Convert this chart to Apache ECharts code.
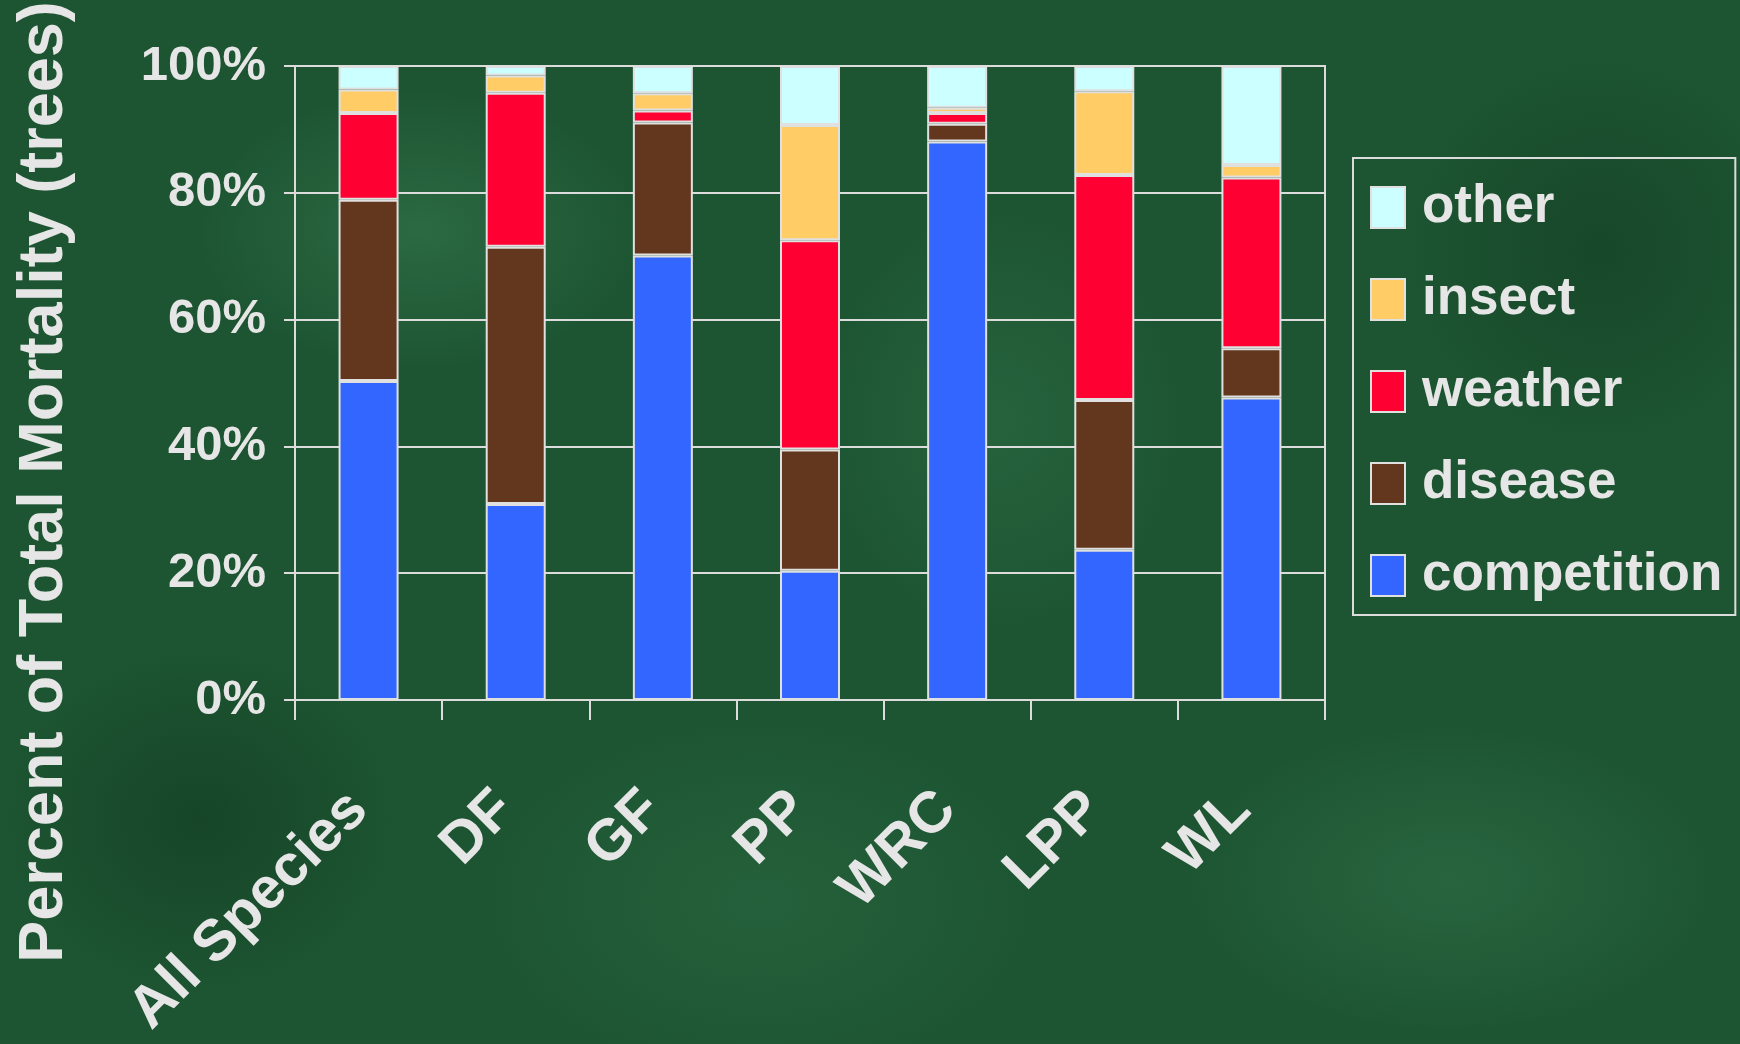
<!DOCTYPE html>
<html>
<head>
<meta charset="utf-8">
<script src="https://cdn.jsdelivr.net/npm/echarts@6/dist/echarts.min.js"></script>
<style>
  html, body { margin: 0; padding: 0; }
  body {
    width: 1740px; height: 1044px; overflow: hidden;
    background-color: #1d5532;
    background-image:
      radial-gradient(ellipse 320px 200px at 420px 230px, rgba(80,160,110,0.28), rgba(80,160,110,0) 70%),
      radial-gradient(ellipse 260px 300px at 1000px 420px, rgba(70,150,100,0.22), rgba(70,150,100,0) 70%),
      radial-gradient(ellipse 380px 220px at 1450px 880px, rgba(80,160,110,0.22), rgba(80,160,110,0) 70%),
      radial-gradient(ellipse 300px 260px at 200px 820px, rgba(10,40,20,0.35), rgba(10,40,20,0) 70%),
      radial-gradient(ellipse 400px 260px at 760px 900px, rgba(70,150,100,0.18), rgba(70,150,100,0) 70%),
      radial-gradient(ellipse 300px 300px at 1600px 250px, rgba(10,40,20,0.3), rgba(10,40,20,0) 70%);
  }
  #main { width: 1740px; height: 1044px; }
</style>
</head>
<body>
<div id="main"></div>
<script>
// categories and stacked shares (%), bottom to top
const species = ['All Species', 'DF', 'GF', 'PP', 'WRC', 'LPP', 'WL'];
const competition = [50.3, 30.9, 70.1, 20.4, 88.1, 23.7, 47.7];
const disease = [28.6, 40.6, 21.0, 19.1, 2.8, 23.6, 7.8];
const weather = [13.7, 24.3, 1.9, 33.0, 1.7, 35.5, 26.9];
const insect = [3.7, 2.7, 2.7, 18.2, 0.8, 13.2, 2.0];
const other = [3.7, 1.5, 4.3, 9.3, 6.6, 4.0, 15.6];

const txt = '#e6e6e6'
const line = '#dcdcdc'
const font = '"Liberation Sans", Arial, sans-serif'

var myChart = echarts.init(document.getElementById('main'));

function barSeries(name, data, color) {
  return {
    name: name,
    type: 'bar',
    stack: 'total',
    barWidth: 60,
    data: data,
    itemStyle: {
      color: color,
      borderColor: '#e0e0e0',
      borderWidth: 2
    }
  }
}

let option = {
  backgroundColor: 'transparent',
  animation: false,
  grid: {
    left: 295,
    right: 415,
    top: 66,
    bottom: 344,
    outerBoundsMode: 'none',
    show: true,
    borderColor: line,
    borderWidth: 2,
    backgroundColor: 'transparent'
  },
  legend: {
    orient: 'vertical',
    left: 1353,
    top: 158,
    padding: [23, 13, 13, 17],
    itemWidth: 34,
    itemHeight: 41,
    itemGap: 39,
    borderColor: line,
    borderWidth: 2,
    icon: 'rect',
    data: ['other', 'insect', 'weather', 'disease', 'competition'],
    itemStyle: { borderColor: '#e0e0e0', borderWidth: 2 },
    textStyle: {
      color: txt,
      fontFamily: font,
      fontWeight: 'bold',
      fontSize: 53,
      padding: [0, 0, 0, 12]
    }
  },
  xAxis: {
    type: 'category',
    data: species,
    boundaryGap: true,
    axisLine: { lineStyle: { color: line, width: 2 } },
    axisTick: { show: true, length: 20, lineStyle: { color: line, width: 2 } },
    axisLabel: {
      interval: 0,
      rotate: 45,
      margin: 91,
      color: txt,
      fontFamily: font,
      fontWeight: 'bold',
      fontSize: 58,
      padding: [0, 14, 0, 0]
    }
  },
  yAxis: {
    type: 'value',
    min: 0,
    max: 100,
    interval: 20,
    axisLine: { show: true, lineStyle: { color: line, width: 2 } },
    axisTick: { show: true, length: 11, lineStyle: { color: line, width: 2 } },
    splitLine: { lineStyle: { color: line, width: 2 } },
    axisLabel: {
      formatter: '{value}%',
      margin: 29,
      color: txt,
      fontFamily: font,
      fontWeight: 'bold',
      fontSize: 49
    }
  },
  graphic: [
    {
      type: 'text',
      x: 45,
      y: 482,
      rotation: Math.PI / 2,
      style: {
        text: 'Percent of Total Mortality (trees)',
        fill: txt,
        font: 'bold 63px ' + font,
        align: 'center',
        verticalAlign: 'middle'
      }
    }
  ],
  series: [
    barSeries('competition', competition, '#3366ff'),
    barSeries('disease', disease, '#63361e'),
    barSeries('weather', weather, '#ff0033'),
    barSeries('insect', insect, '#ffcc66'),
    barSeries('other', other, '#ccffff')
  ]
};

option && myChart.setOption(option);
</script>
</body>
</html>
